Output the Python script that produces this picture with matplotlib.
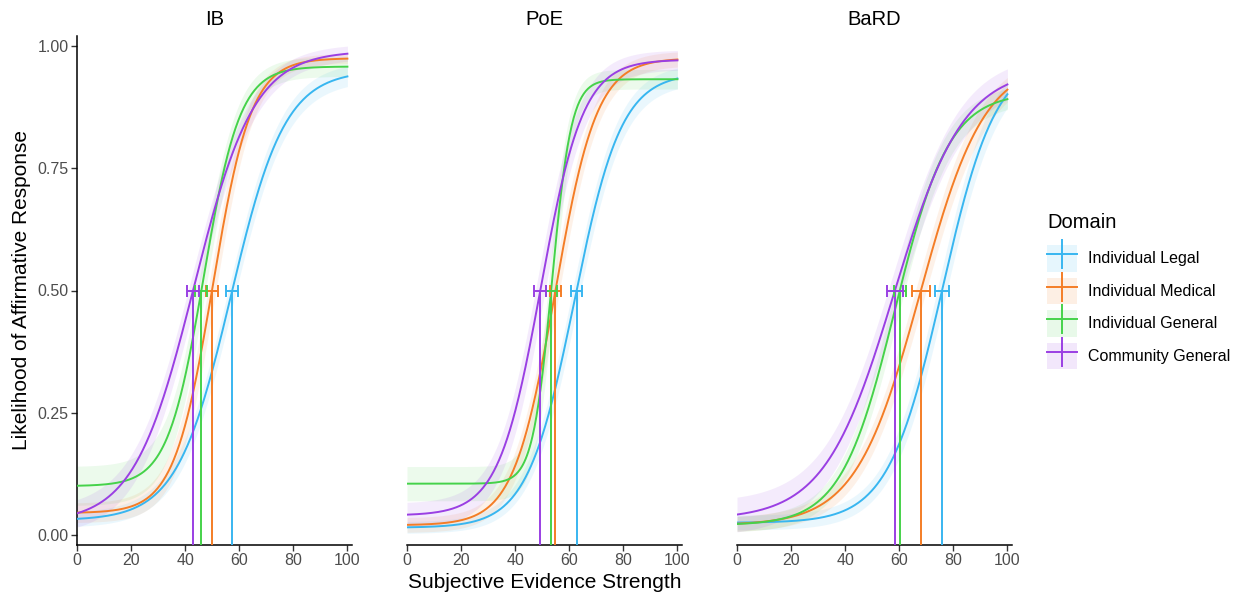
import numpy as np
import matplotlib
matplotlib.use("Agg")
import matplotlib.pyplot as plt
from matplotlib.lines import Line2D
from matplotlib.patches import Patch
from matplotlib.legend_handler import HandlerTuple

plt.rcParams['font.family'] = ['Liberation Sans', 'DejaVu Sans']

panels = ["IB", "PoE", "BaRD"]
domains = ["Individual Legal", "Individual Medical", "Individual General", "Community General"]
colors = ["#38B6F0", "#F47D26", "#45D24A", "#9A3FE3"]

# rows = panels, columns = domains
thresholds = [[57.4, 49.9, 46.0, 42.9],
              [62.7, 54.9, 53.3, 49.3],
              [75.8, 68.0, 60.2, 58.4]]
threshold_err = [[2.3, 2.2, 2.2, 2.3],
                 [2.2, 2.2, 2.0, 2.2],
                 [2.7, 3.2, 2.3, 3.0]]
slopes = [[0.10, 0.14, 0.15, 0.09],
          [0.115, 0.13, 0.28, 0.128],
          [0.10, 0.084, 0.10, 0.078]]
lower = [[0.03, 0.045, 0.10, 0.025],
         [0.015, 0.02, 0.105, 0.04],
         [0.025, 0.02, 0.02, 0.032]]
upper = [[0.95, 0.975, 0.958, 0.99],
         [0.945, 0.975, 0.932, 0.972],
         [0.98, 0.97, 0.905, 0.955]]
# ribbon half widths: horizontal shift, near lower asymptote, near upper asymptote
band_x = [[1.5, 1.5, 1.5, 1.8],
          [1.5, 1.5, 1.2, 1.8],
          [1.8, 2.0, 1.8, 2.5]]
band_lo = [[0.015, 0.02, 0.04, 0.027],
           [0.012, 0.015, 0.035, 0.025],
           [0.015, 0.015, 0.015, 0.035]]
band_hi = [[0.02, 0.01, 0.02, 0.015],
           [0.02, 0.015, 0.02, 0.02],
           [0.02, 0.02, 0.02, 0.03]]


def curve(x, t, k, g, u):
    p = (0.5 - g) / (u - g)
    m = t + np.log(1 / p - 1) / k
    return g + (u - g) / (1 + np.exp(-k * (x - m)))


fig = plt.figure(figsize=(12.45, 5.95), dpi=100)
W, H = 1245, 595
lefts = [77, 407, 737]
ylo, yhi = -0.0204, 1.0204
x = np.linspace(0, 100, 400)

for i, name in enumerate(panels):
    ax = fig.add_axes([lefts[i] / W, 50 / H, 275 / W, 509 / H])
    for j in range(4):
        t, k, g, u = thresholds[i][j], slopes[i][j], lower[i][j], upper[i][j]
        c = colors[j]
        lo = curve(x, t + band_x[i][j], k, g - band_lo[i][j], u - band_hi[i][j])
        hi = curve(x, t - band_x[i][j], k, g + band_lo[i][j], u + band_hi[i][j])
        ax.fill_between(x, lo, hi, color=c, alpha=0.1, lw=0, zorder=1)
    for j in range(4):
        t, k, g, u = thresholds[i][j], slopes[i][j], lower[i][j], upper[i][j]
        c = colors[j]
        ax.plot(x, curve(x, t, k, g, u), color=c, lw=1.4, zorder=3)
        ax.vlines(t, ylo, 0.5, color=c, lw=1.4, zorder=3)
        ax.errorbar(t, 0.5, xerr=threshold_err[i][j], color=c, lw=1.4,
                    capsize=4.5, capthick=1.4, zorder=4)

    ax.set_xlim(0, 101.7)
    ax.set_ylim(ylo, yhi)
    ax.set_xticks([0, 20, 40, 60, 80, 100])
    ax.set_yticks([0, 0.25, 0.5, 0.75, 1.0])
    if i == 0:
        ax.set_yticklabels(["0.00", "0.25", "0.50", "0.75", "1.00"])
        ax.set_ylabel("Likelihood of Affirmative Response", fontsize=15, labelpad=5)
    else:
        ax.set_yticks([])
        ax.spines['left'].set_visible(False)
    for s in ['top', 'right']:
        ax.spines[s].set_visible(False)
    for s in ['left', 'bottom']:
        ax.spines[s].set_linewidth(1.1)
    ax.tick_params(labelsize=11.5, labelcolor="#4D4D4D", color="#333333",
                   length=4, width=1.0, pad=2)
    ax.set_title(name, fontsize=14.5, pad=8)
    if i == 1:
        ax.set_xlabel("Subjective Evidence Strength", fontsize=15, labelpad=3)

handles = []
for c in colors:
    handles.append((Patch(facecolor=c, alpha=0.12, edgecolor='none'),
                    Line2D([], [], color=c, lw=1.4, marker='|', markersize=21, mew=1.4)))
fig.text(1047 / W, 1 - 223 / H, "Domain", fontsize=14.5, va='center', ha='left')
fig.legend(handles, domains, loc='upper left',
           bbox_to_anchor=(1047 / W, 1 - 245 / H), frameon=False,
           handler_map={tuple: HandlerTuple(ndivide=1, pad=0)},
           handlelength=1.85, handleheight=2.2, labelspacing=0.36,
           handletextpad=0.7, fontsize=11.5, borderpad=0, borderaxespad=0)

fig.savefig("out.png", dpi=100)
